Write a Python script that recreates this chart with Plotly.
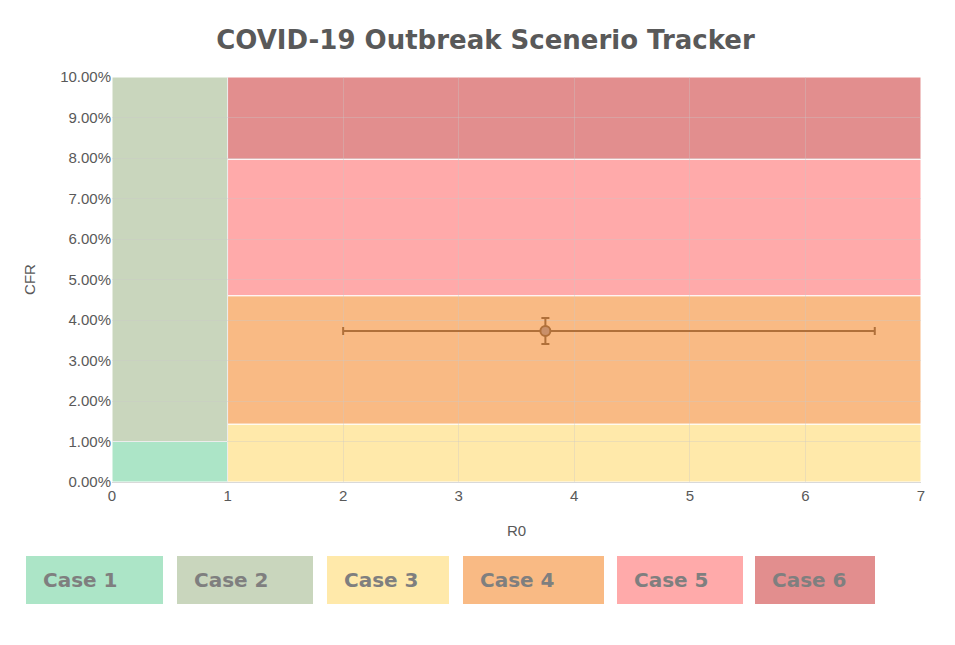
import plotly.graph_objects as go

# case regions: (R0 from, R0 to, CFR from, CFR to)
cases = ['Case 1', 'Case 2', 'Case 3', 'Case 4', 'Case 5', 'Case 6']
r0_lo = [0, 0, 1, 1, 1, 1]
r0_hi = [1, 1, 7, 7, 7, 7]
cfr_lo = [0.0, 0.01, 0.0, 0.0143, 0.046, 0.0797]
cfr_hi = [0.01, 0.10, 0.0143, 0.046, 0.0797, 0.10]
colors = ['#ACE5C7', '#C9D6BD', '#FFE9AA', '#F9BA84', '#FFAAAA', '#E28E8E']

# current estimate
est_r0 = [3.75]
est_cfr = [0.0373]
r0_low, r0_high = 2.0, 6.6
cfr_low, cfr_high = 0.0341, 0.0405

fig = go.Figure()

shapes = []
for i in range(len(cases)):
    shapes.append(dict(type='rect', xref='x', yref='y', layer='below',
                       x0=r0_lo[i], x1=r0_hi[i], y0=cfr_lo[i], y1=cfr_hi[i],
                       fillcolor=colors[i], line=dict(color='white', width=1)))

# legend boxes under the chart, in pixel positions converted to paper coords
box_px = [(26, 163), (177, 313), (327, 449), (463, 604), (617, 743), (755, 875)]
annotations = []
for (a, b), name, c in zip(box_px, cases, colors):
    x0 = (a - 112) / 809
    x1 = (b - 112) / 809
    shapes.append(dict(type='rect', xref='paper', yref='paper',
                       x0=x0, x1=x1, y0=(482 - 604) / 405, y1=(482 - 556) / 405,
                       fillcolor=c, line=dict(width=0)))
    annotations.append(dict(xref='paper', yref='paper', x=x0 + 15 / 809,
                            y=(482 - 580) / 405, text=name, showarrow=False,
                            xanchor='left', yanchor='middle',
                            font=dict(family='DejaVu Sans', size=20, color='#7F7F7F', weight='bold')))

fig.add_trace(go.Scatter(
    x=est_r0, y=est_cfr, mode='markers',
    marker=dict(size=10, color='#C9906A', line=dict(color='#B0703A', width=2)),
    error_x=dict(type='data', symmetric=False, array=[r0_high - est_r0[0]],
                 arrayminus=[est_r0[0] - r0_low], color='#B0703A', thickness=2, width=4),
    error_y=dict(type='data', symmetric=False, array=[cfr_high - est_cfr[0]],
                 arrayminus=[est_cfr[0] - cfr_low], color='#B0703A', thickness=2, width=4),
    showlegend=False))

fig.update_layout(
    width=955, height=645,
    margin=dict(l=104, r=42, t=69, b=171),
    paper_bgcolor='white', plot_bgcolor='white',
    title=dict(text='COVID-19 Outbreak Scenerio Tracker', x=0.5, y=0.965, xanchor='center',
               font=dict(family='DejaVu Sans', size=26, color='#595959', weight='bold')),
    shapes=shapes, annotations=annotations,
    xaxis=dict(range=[0, 7], dtick=1, title=dict(text='R0', standoff=22,
               font=dict(family='Liberation Sans', size=15, color='#595959')),
               showgrid=True, gridcolor='rgba(200,200,200,0.35)', zeroline=False,
               showline=True, linecolor='#D9D9D9', ticks='',
               tickfont=dict(family='Liberation Sans', size=15, color='#595959')),
    yaxis=dict(range=[0, 0.10], dtick=0.01, tickformat='.2%', title=dict(text='CFR', standoff=20,
               font=dict(family='Liberation Sans', size=15, color='#595959')),
               showgrid=True, gridcolor='rgba(200,200,200,0.35)', zeroline=False,
               tickfont=dict(family='Liberation Sans', size=15, color='#595959')),
)

fig.write_html('out.html')
